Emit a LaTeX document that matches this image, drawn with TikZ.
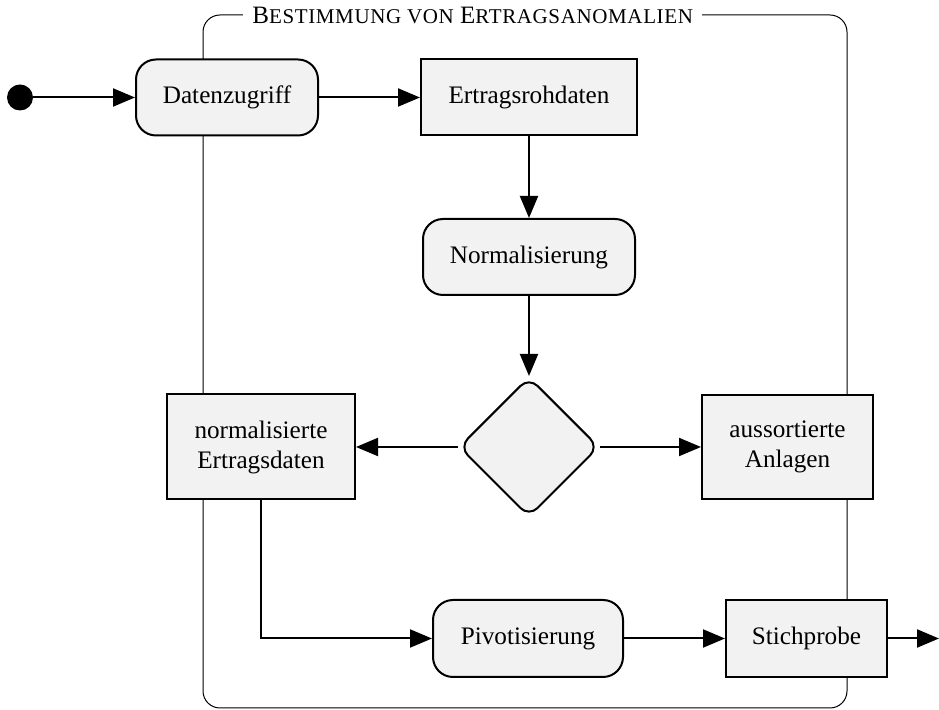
\documentclass[tikz,border=0pt]{standalone}
\usepackage{fontspec}
\setmainfont{Liberation Serif}
\usetikzlibrary{arrows.meta,shapes.geometric}
\newcommand\mysc[1]{{\fontsize{10.5}{12}\selectfont\addfontfeature{LetterSpace=3}#1}}
\begin{document}
\begin{tikzpicture}[x=0.5pt,y=-0.5pt,
  every node/.style={font=\fontsize{12.6}{15}\selectfont},
  action/.style={draw, line width=1pt, fill=gray!10, rounded corners=10pt,
    minimum height=38pt, inner sep=0pt, align=center},
  objbox/.style={draw, line width=1pt, fill=gray!10,
    minimum height=38pt, inner sep=0pt, align=center},
  decision/.style={draw, line width=1pt, fill=gray!10, diamond, aspect=1,
    minimum width=70pt, minimum height=70pt, inner sep=0pt, rounded corners=6pt},
  startdot/.style={circle, fill=black, minimum size=13pt, inner sep=0pt},
  flow/.style={line width=1pt, -{Triangle[length=11pt,width=9pt]}},
  frameline/.style={line width=0.5pt, rounded corners=8.5pt}
]
\useasboundingbox (0,0) rectangle (939,710);
% frame
\draw[frameline] (203,15) rectangle (847,708);
\node[anchor=west, fill=white, inner xsep=4.5pt, inner ysep=1pt, font=\fontsize{12.5}{15}\selectfont]
  (title) at (243,15.5) {B\mysc{ESTIMMUNG VON} E\mysc{RTRAGSANOMALIEN}};
% nodes
\node[startdot] (start) at (20,97.5) {};
\node[action, minimum width=91pt] (daten) at (227,97.5) {Datenzugriff};
\node[objbox, minimum width=108pt] (roh) at (529,97.5) {Ertragsrohdaten};
\node[action, minimum width=106pt] (norm) at (529,257) {Normalisierung};
\node[decision] (dec) at (529,447) {};
\node[objbox, minimum width=94pt, minimum height=52.5pt] (normdat) at (261,447) {normalisierte\\Ertragsdaten};
\node[objbox, minimum width=85.5pt, minimum height=52pt] (auss) at (787.5,447) {aussortierte\\Anlagen};
\node[action, minimum width=95pt, minimum height=38.5pt] (piv) at (528,638.5) {Pivotisierung};
\node[objbox, minimum width=80.5pt, minimum height=38.5pt] (stich) at (806.5,638.5) {Stichprobe};
\coordinate (out) at (939,638.5);
% connectors
\draw[flow] (start) -- (daten);
\draw[flow] (daten) -- (roh);
\draw[flow] (roh) -- (norm);
\draw[flow] (norm) -- (dec);
\draw[flow] (dec.west) -- (normdat.east);
\draw[flow] (dec.east) -- (auss.west);
\draw[flow] (normdat.south) |- (piv.west);
\draw[flow] (piv) -- (stich);
\draw[flow] (stich) -- (out);
\end{tikzpicture}
\end{document}
